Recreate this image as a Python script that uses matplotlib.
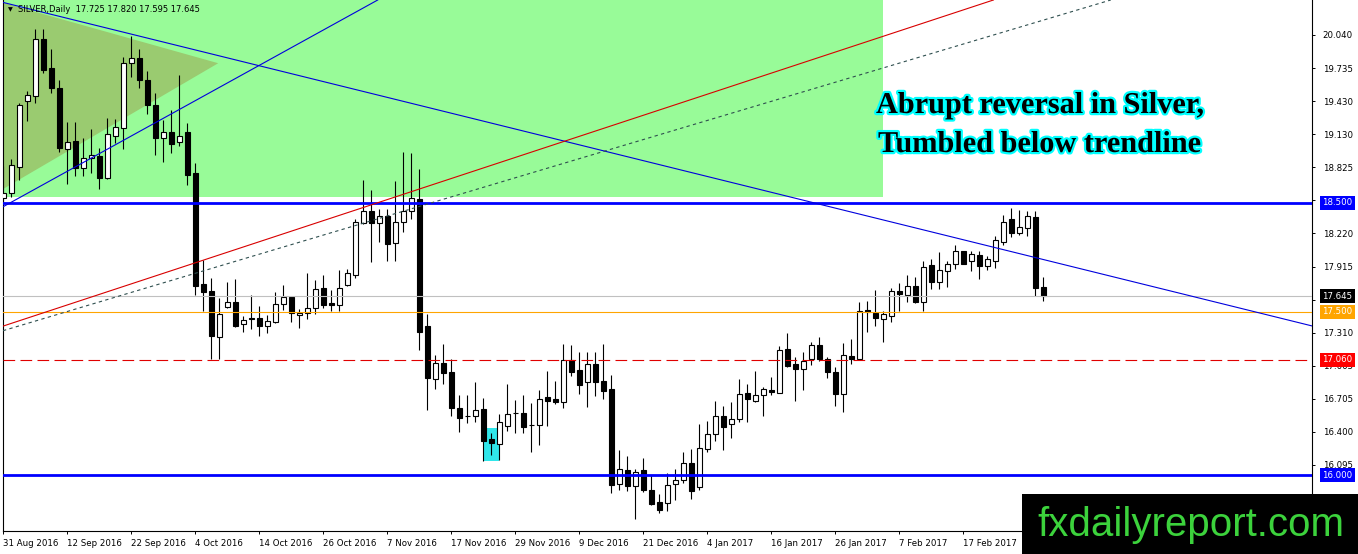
import matplotlib
matplotlib.use("Agg")
import matplotlib.pyplot as plt
from matplotlib.patches import Rectangle, Polygon
import matplotlib.patheffects as pe
import matplotlib.transforms as mtransforms

# ---------------- data (daily SILVER candles, 31 Aug 2016 .. early Mar 2017) ----------------
opens = [18.54, 18.59, 18.829, 19.434, 19.480, 20.003, 19.737, 19.551, 18.994, 19.067,
         18.820, 18.911, 18.930, 18.728, 19.113, 19.188, 19.783, 19.829, 19.627, 19.398,
         19.095, 19.150, 19.058, 19.150, 18.774, 17.755, 17.691, 17.269, 17.544, 17.586,
         17.388, 17.446, 17.446, 17.370, 17.407, 17.572, 17.636, 17.474, 17.489, 17.535,
         17.719, 17.584, 17.563, 17.746, 17.838, 18.315, 18.428, 18.315, 18.379, 18.132,
         18.324, 18.425, 18.535, 17.370, 16.884, 17.034, 16.945, 16.618, 16.547, 16.545,
         16.609, 16.333, 16.288, 16.453, 16.572, 16.572, 16.462, 16.458, 16.719, 16.700,
         16.673, 17.058, 16.967, 16.856, 17.022, 16.866, 16.792, 15.918, 16.049, 15.902,
         16.049, 15.866, 15.756, 15.744, 15.918, 15.957, 16.111, 15.890, 16.242, 16.379,
         16.544, 16.468, 16.514, 16.753, 16.685, 16.737, 16.783, 16.758, 17.159, 17.022,
         16.973, 17.065, 17.196, 17.065, 16.951, 16.744, 17.095, 17.067, 17.517, 17.494,
         17.432, 17.466, 17.691, 17.650, 17.737, 17.593, 17.930, 17.777, 17.878, 17.936,
         18.058, 17.969, 18.022, 17.923, 17.969, 18.144, 18.349, 18.220, 18.266, 18.373,
         17.725]
highs = [18.84, 18.902, 19.416, 19.526, 20.095, 20.095, 19.911, 19.627, 19.242, 19.242,
         19.095, 19.178, 19.003, 19.279, 19.269, 19.838, 20.031, 19.911, 19.710, 19.508,
         19.260, 19.352, 19.673, 19.233, 18.866, 17.976, 17.811, 17.627, 17.774, 17.801,
         17.462, 17.655, 17.554, 17.471, 17.682, 17.746, 17.645, 17.526, 17.856, 17.792,
         17.838, 17.700, 17.884, 17.893, 18.352, 18.710, 18.618, 18.444, 18.444, 18.700,
         18.967, 18.957, 18.811, 17.480, 17.104, 17.205, 17.067, 16.737, 16.737, 16.856,
         16.710, 16.389, 16.563, 16.838, 16.691, 16.737, 16.664, 16.783, 16.957, 16.866,
         17.205, 17.196, 17.132, 17.132, 17.132, 17.205, 16.921, 16.233, 16.178, 16.056,
         16.159, 16.003, 15.829, 16.019, 16.056, 16.211, 16.242, 16.471, 16.502, 16.682,
         16.636, 16.670, 16.881, 16.835, 16.957, 16.808, 16.900, 17.187, 17.309, 17.083,
         17.129, 17.226, 17.272, 17.089, 16.997, 17.211, 17.248, 17.586, 17.604, 17.700,
         17.511, 17.723, 17.762, 17.838, 17.817, 17.969, 17.982, 18.052, 17.967, 18.113,
         18.061, 18.061, 18.061, 18.012, 18.196, 18.388, 18.450, 18.434, 18.428, 18.428,
         17.820]
lows = [18.48, 18.554, 18.710, 19.251, 19.416, 19.691, 19.508, 18.967, 18.673, 18.746,
        18.746, 18.774, 18.627, 18.719, 19.049, 18.994, 19.655, 19.554, 19.315, 18.939,
        18.875, 18.957, 19.022, 18.664, 17.655, 17.508, 17.067, 17.067, 17.535, 17.365,
        17.315, 17.343, 17.278, 17.306, 17.402, 17.517, 17.407, 17.352, 17.434, 17.480,
        17.535, 17.508, 17.508, 17.737, 17.811, 18.306, 17.957, 18.141, 17.966, 17.966,
        18.233, 18.352, 17.150, 16.600, 16.792, 16.838, 16.545, 16.398, 16.480, 16.489,
        16.132, 16.187, 16.141, 16.407, 16.389, 16.389, 16.214, 16.279, 16.453, 16.655,
        16.618, 16.912, 16.746, 16.627, 16.728, 16.700, 15.838, 15.866, 15.857, 15.595,
        15.847, 15.728, 15.652, 15.673, 15.774, 15.930, 15.783, 15.866, 16.217, 16.315,
        16.233, 16.340, 16.492, 16.492, 16.676, 16.547, 16.737, 16.758, 16.991, 16.685,
        16.783, 17.012, 17.052, 16.890, 16.636, 16.584, 17.022, 17.067, 17.318, 17.370,
        17.226, 17.410, 17.511, 17.593, 17.578, 17.511, 17.710, 17.710, 17.725, 17.893,
        17.935, 17.878, 17.799, 17.884, 17.905, 18.113, 18.189, 18.205, 18.199, 17.645,
        17.595]
closes = [18.59, 18.847, 19.398, 19.489, 20.003, 19.719, 19.554, 19.003, 19.058, 18.820,
          18.911, 18.939, 18.728, 19.132, 19.196, 19.783, 19.829, 19.627, 19.398, 19.095,
          19.150, 19.040, 19.113, 18.756, 17.737, 17.682, 17.278, 17.480, 17.586, 17.370,
          17.425, 17.432, 17.370, 17.416, 17.572, 17.636, 17.489, 17.492, 17.535, 17.710,
          17.563, 17.566, 17.719, 17.856, 18.324, 18.428, 18.315, 18.379, 18.122, 18.324,
          18.425, 18.545, 17.315, 16.893, 17.031, 16.939, 16.618, 16.526, 16.543, 16.600,
          16.315, 16.297, 16.490, 16.563, 16.568, 16.444, 16.458, 16.700, 16.682, 16.673,
          17.058, 16.948, 16.829, 17.022, 16.856, 16.774, 15.911, 16.056, 15.905, 16.034,
          15.870, 15.737, 15.682, 15.911, 15.957, 16.111, 15.859, 16.248, 16.377, 16.547,
          16.446, 16.514, 16.744, 16.698, 16.734, 16.792, 16.767, 17.150, 17.006, 16.973,
          17.049, 17.196, 17.065, 16.951, 16.746, 17.104, 17.067, 17.512, 17.496, 17.439,
          17.477, 17.691, 17.661, 17.740, 17.593, 17.909, 17.777, 17.884, 17.939, 18.058,
          17.939, 18.028, 17.923, 17.982, 18.159, 18.327, 18.220, 18.276, 18.379, 17.722,
          17.645]

date_ticks = [0, 8, 16, 24, 32, 40, 48, 56, 64, 72, 80, 88, 96, 104, 112, 120]
date_labels = ["31 Aug 2016", "12 Sep 2016", "22 Sep 2016", "4 Oct 2016", "14 Oct 2016",
               "26 Oct 2016", "7 Nov 2016", "17 Nov 2016", "29 Nov 2016", "9 Dec 2016",
               "21 Dec 2016", "4 Jan 2017", "16 Jan 2017", "26 Jan 2017", "7 Feb 2017",
               "17 Feb 2017"]
price_ticks = [20.040, 19.735, 19.430, 19.130, 18.825, 18.525, 18.220, 17.915, 17.610,
               17.310, 17.005, 16.705, 16.400, 16.095, 15.790]
# scale labels that sit fully under a coloured level box are not shown
hidden_ticks = [18.525, 17.610]

level_values = [18.500, 17.645, 17.500, 17.060, 16.000]
level_colors = ["#0000ff", "#000000", "#ffa500", "#ff0000", "#0000ff"]

# trend objects (bar index, price)
falling_line = [(0, 20.338), (129, 17.998)]
rising_blue = [(0, 18.466), (45.875, 20.324)]
red_channel = [(22.125, 17.905), (59.2, 18.801)]
dotted_channel = [(22.54, 17.822), (59.6, 18.634)]
green_zone = (110, 18.554)           # right bar, bottom price
triangle = [(0, 20.345), (26.85, 19.781), (0, 18.607)]
cyan_box = (60, 62, 16.134, 16.437)

header = "SILVER,Daily  17.725 17.820 17.595 17.645"
note_lines = ["Abrupt reversal in Silver,", "Tumbled below trendline"]
brand = "fxdailyreport.com"

# ---------------- figure ----------------
W, H = 1358, 554
fig = plt.figure(figsize=(W / 100, H / 100), dpi=100)
fig.patch.set_facecolor("white")
ax_l, ax_r, ax_bot = 3, 1312, 531
ax = fig.add_axes([ax_l / W, (H - ax_bot) / H, (ax_r - ax_l) / W, ax_bot / H])
ax.set_facecolor("white")
n = len(opens)
ax.set_xlim(-0.05, (ax_r - ax_l) / 8 - 0.05)
ax.set_ylim(20.361 - ax_bot / 109.0, 20.361)

# background objects
ax.add_patch(Rectangle((-2, green_zone[1]), green_zone[0] + 2, 3, facecolor="#98fb98",
                       edgecolor="none", zorder=0))
ax.add_patch(Polygon([(-0.5, triangle[0][1]), triangle[1], (-0.5, triangle[2][1])],
                     closed=True, facecolor="#9acb70", edgecolor="none", zorder=0.5))
ax.add_patch(Rectangle((cyan_box[0], cyan_box[2]), cyan_box[1] - cyan_box[0],
                       cyan_box[3] - cyan_box[2], facecolor="#30e6ea", edgecolor="none",
                       zorder=0.6))

# candles
xs = list(range(n))
ax.vlines(xs, lows, highs, color="black", lw=0.8, zorder=3)
bottoms = [min(o, c) for o, c in zip(opens, closes)]
heights = [max(abs(c - o), 0.006) for o, c in zip(opens, closes)]
fills = ["white" if c >= o else "black" for o, c in zip(opens, closes)]
ax.bar(xs, heights, bottom=bottoms, width=0.6, color=fills, edgecolor="black",
       linewidth=0.8, zorder=3.5)

# horizontal levels
ax.axhline(18.500, color="#0000ff", lw=2.0, zorder=4)
ax.axhline(16.000, color="#0000ff", lw=2.0, zorder=4)
ax.axhline(17.645, color="#c0c0c0", lw=0.8, zorder=4)
ax.axhline(17.500, color="#ffa500", lw=0.8, zorder=4)
ax.axhline(17.060, color="#e00000", lw=0.8, ls=(0, (10.5, 4.8)), zorder=4)

# trend lines
ax.axline(falling_line[0], falling_line[1], color="#0000dd", lw=0.8, zorder=4)
ax.axline(rising_blue[0], rising_blue[1], color="#0000dd", lw=0.8, zorder=4)
ax.axline(red_channel[0], red_channel[1], color="#d80000", lw=0.8, zorder=4)
ax.axline(dotted_channel[0], dotted_channel[1], color="#2f4f4f", lw=0.8,
          ls=(0, (3, 3)), zorder=4)

# axes styling
ax.spines["top"].set_visible(False)
for s in ["left", "right", "bottom"]:
    ax.spines[s].set_color("black")
    ax.spines[s].set_linewidth(0.8)

ax.yaxis.tick_right()
ax.set_yticks(price_ticks)
ax.set_yticklabels(["" if v in hidden_ticks else f"{v:.3f}" for v in price_ticks])
ax.tick_params(axis="y", direction="out", length=2.2, width=0.7, pad=5.5,
               labelsize=6.2, colors="black")
ax.set_xticks(date_ticks)
ax.set_xticklabels(date_labels)
for lbl in ax.get_xticklabels():
    lbl.set_ha("left")
ax.tick_params(axis="x", direction="out", length=2.5, width=0.7, pad=3.0,
               labelsize=6.2, colors="black")

# price level boxes on the right scale
blend = mtransforms.blended_transform_factory(ax.transAxes, ax.transData)
xbox = 1 + 10 / (ax_r - ax_l)
for v, col in zip(level_values, level_colors):
    ax.text(xbox, v, f"{v:.3f}", transform=blend, ha="left", va="center",
            fontsize=6.2, color="white", clip_on=False, zorder=10,
            bbox=dict(boxstyle="square,pad=0.28", fc=col, ec="none"))

# header
fig.text(8 / W, 1 - 10 / H, "\u25bc", fontsize=4.5, va="center", ha="left", color="black")
fig.text(18 / W, 1 - 10 / H, header, fontsize=6.0, va="center", ha="left", color="black")

# annotation
for line, (px, py) in zip(note_lines, [(876, 113), (878, 152)]):
    fig.text(px / W, 1 - py / H, line, fontsize=21.8, fontweight="bold",
             family="Liberation Serif", color="black", va="baseline", ha="left",
             path_effects=[pe.withStroke(linewidth=3.2, foreground="#00ffff")])

# brand box
fig.add_artist(Rectangle((1022 / W, 0), 336 / W, 60 / H, transform=fig.transFigure,
                         facecolor="black", edgecolor="none", zorder=20))
fig.text(1037 / W, 1 - 536 / H, brand, fontsize=29, family="Liberation Sans",
         color="#3cd23c", va="baseline", ha="left", zorder=21)

fig.savefig("out.png", dpi=100)
